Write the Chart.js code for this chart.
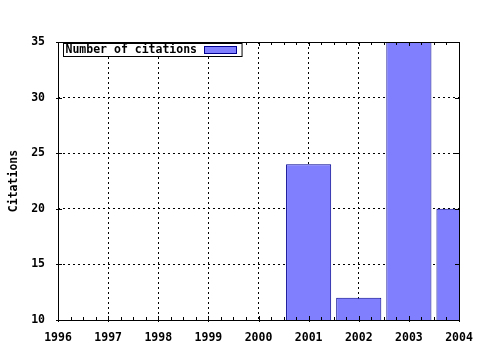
<!DOCTYPE html>
<html>
<head>
<meta charset="utf-8">
<script src="https://cdn.jsdelivr.net/npm/chart.js@4"></script>
<style>
html,body{margin:0;padding:0;background:#fff;}
#wrap{width:480px;height:350px;}
</style>
</head>
<body>
<div id="wrap"><canvas id="c" width="480" height="350"></canvas></div>
<script>
const years = [2001, 2002, 2003, 2004];
const citations = [24, 12, 35, 20];
const xTickValues = [1996, 1997, 1998, 1999, 2000, 2001, 2002, 2003, 2004];
const yTickValues = [10, 15, 20, 25, 30, 35];
const seriesLabel = 'Number of citations';
const yTitle = 'Citations';

const FONT = {family: "'DejaVu Sans Mono', 'Liberation Mono', monospace", size: 11.5, weight: 'bold'};
const FILL = '#8080ff';
const EDGE = '#000090';

const framePlugin = {
  id: 'frame',
  afterDatasetsDraw(chart) {
    const {ctx, chartArea: a, scales} = chart;
    const xs = scales.x, ys = scales.y;
    ctx.save();
    ctx.strokeStyle = '#000';
    ctx.lineWidth = 1;
    ctx.setLineDash([]);
    ctx.strokeRect(Math.round(a.left) + 0.5, Math.round(a.top) + 0.5,
      Math.round(a.right) - Math.round(a.left), Math.round(a.bottom) - Math.round(a.top));
    ctx.beginPath();
    for (let i = 0; i < xTickValues.length; i++) {
      const v = xTickValues[i];
      const px = Math.round(xs.getPixelForValue(v)) + 0.5;
      ctx.moveTo(px, a.bottom + 2); ctx.lineTo(px, a.bottom - 4);
      ctx.moveTo(px, a.top); ctx.lineTo(px, a.top + 4);
      if (i < xTickValues.length - 1) {
        for (let q = 1; q < 4; q++) {
          const mx = Math.round(xs.getPixelForValue(v + q / 4)) + 0.5;
          ctx.moveTo(mx, a.bottom); ctx.lineTo(mx, a.bottom - 3);
          ctx.moveTo(mx, a.top); ctx.lineTo(mx, a.top + 3);
        }
      }
    }
    for (const v of yTickValues) {
      const py = Math.round(ys.getPixelForValue(v)) + 0.5;
      ctx.moveTo(a.left - 2, py); ctx.lineTo(a.left + 4, py);
      ctx.moveTo(a.right, py); ctx.lineTo(a.right - 4, py);
    }
    ctx.stroke();

    ctx.font = `${FONT.weight} ${FONT.size}px ${FONT.family}`;
    const tw = ctx.measureText(seriesLabel).width;
    const x0 = Math.round(a.left) + 5.5, y0 = Math.round(a.top) + 1.5;
    const sw = 32;
    const bw = 2 + tw + 7 + sw + 6;
    const bh = 13;
    ctx.fillStyle = '#fff';
    ctx.fillRect(x0, y0, bw, bh);
    ctx.strokeStyle = '#000';
    ctx.strokeRect(x0, y0, bw, bh);
    ctx.fillStyle = '#000';
    ctx.textBaseline = 'middle';
    ctx.textAlign = 'left';
    ctx.fillText(seriesLabel, x0 + 2, y0 + bh / 2 + 0.5);
    const sx = Math.round(x0 + 2 + tw + 7) + 0.5;
    ctx.fillStyle = FILL;
    ctx.fillRect(sx, y0 + 3, sw, 7);
    ctx.strokeStyle = EDGE;
    ctx.strokeRect(sx, y0 + 3, sw, 7);
    ctx.restore();
  }
};

new Chart(document.getElementById('c'), {
  type: 'bar',
  data: {
    datasets: [{
      label: seriesLabel,
      data: years.map((y, i) => ({x: y, y: citations[i]})),
      backgroundColor: FILL,
      borderColor: EDGE,
      borderWidth: 1,
      barPercentage: 0.9,
      categoryPercentage: 1.0,
      clip: 0
    }]
  },
  options: {
    responsive: false,
    animation: false,
    devicePixelRatio: 1,
    layout: {padding: {top: 42, right: 21, left: 0, bottom: 0}},
    plugins: {legend: {display: false}, tooltip: {enabled: false}},
    scales: {
      x: {
        type: 'linear',
        min: 1996, max: 2004,
        offset: false,
        afterFit(s) { s.height = 30; s.paddingLeft = 0; s.paddingRight = 0; },
        afterBuildTicks(s) { s.ticks = xTickValues.map(v => ({value: v})); },
        ticks: {
          font: FONT, color: '#000', padding: 11, maxRotation: 0, autoSkip: false,
          callback: v => String(v)
        },
        grid: {color: '#000', drawTicks: false, lineWidth: 1, offset: false},
        border: {display: false, dash: [2, 3]}
      },
      y: {
        min: 10, max: 35,
        afterFit(s) { s.width = 58; s.paddingTop = 0; s.paddingBottom = 0; },
        afterBuildTicks(s) { s.ticks = yTickValues.map(v => ({value: v})); },
        ticks: {font: FONT, color: '#000', padding: 13, callback: v => String(v)},
        grid: {color: '#000', drawTicks: false, lineWidth: 1},
        border: {display: false, dash: [2, 3]},
        title: {display: true, text: yTitle, font: FONT, color: '#000', padding: {top: 7, bottom: 0}}
      }
    }
  },
  plugins: [framePlugin]
});
</script>
</body>
</html>
